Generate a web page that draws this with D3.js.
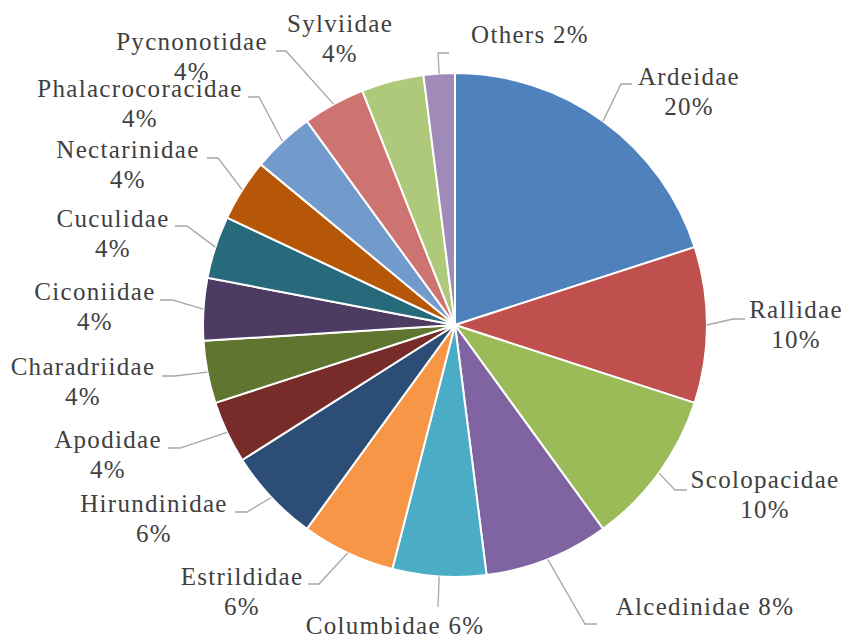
<!DOCTYPE html>
<html>
<head>
<meta charset="utf-8">
<script src="https://cdn.jsdelivr.net/npm/d3@7"></script>
<style>
    body { margin: 0; background: #fff; }
</style>
</head>
<body>
<svg id="chart" width="844" height="640"></svg>
<script>
// bird families and their share of species (%)
var families = ['Ardeidae', 'Rallidae', 'Scolopacidae', 'Alcedinidae', 'Columbidae', 'Estrildidae',
    'Hirundinidae', 'Apodidae', 'Charadriidae', 'Ciconiidae', 'Cuculidae', 'Nectarinidae',
    'Phalacrocoracidae', 'Pycnonotidae', 'Sylviidae', 'Others'];
var shares = [20, 10, 10, 8, 6, 6, 6, 4, 4, 4, 4, 4, 4, 4, 4, 2];
var colors = ['#4f81bd', '#c0504d', '#9bbb59', '#8064a2', '#4bacc6', '#f79646',
    '#2c4d75', '#772c2a', '#5f7530', '#4d3b62', '#276a7c', '#b65708',
    '#729aca', '#cd7371', '#afc97a', '#a08ab8'];

// label placement (text centre, first baseline, leader elbow, leader end)
var labelLayout = [
    {tx: 689, ty: 85, ex: 621, ey: 84, hx: 632},
    {tx: 796, ty: 318, ex: 733, ey: 319, hx: 745},
    {tx: 765, ty: 488, ex: 675, ey: 490, hx: 687},
    {tx: 705, ty: 615, ex: 585, ey: 624, hx: 597, oneLine: true},
    {tx: 395, ty: 634, ex: 438, ey: 607, hx: 438, oneLine: true},
    {tx: 242, ty: 585, ex: 319, ey: 584, hx: 308},
    {tx: 154, ty: 512, ex: 247, ey: 512, hx: 235},
    {tx: 108, ty: 448, ex: 180, ey: 448, hx: 168},
    {tx: 83, ty: 375, ex: 175, ey: 376, hx: 162},
    {tx: 95, ty: 300, ex: 172, ey: 300, hx: 160},
    {tx: 113, ty: 227, ex: 187, ey: 226, hx: 175},
    {tx: 128, ty: 158, ex: 218, ey: 158, hx: 207},
    {tx: 140, ty: 97, ex: 259, ey: 97, hx: 248},
    {tx: 192, ty: 50, ex: 286, ey: 51, hx: 276},
    {tx: 340, ty: 32, noLeader: true},
    {tx: 530, ty: 43, ex: 438, ey: 53, hx: 449, oneLine: true}
];

var cx = 455, cy = 325, radius = 252, lineGap = 30;

var svg = d3.select('svg#chart');

var pie = d3.pie()
    .sort(null)
    .value(function(d) { return d; });

var arcs = pie(shares);

var arc = d3.arc()
    .innerRadius(0)
    .outerRadius(radius);

var edge = d3.arc()
    .innerRadius(radius)
    .outerRadius(radius);

var g = svg.append('g')
    .attr('transform', 'translate(' + cx + ',' + cy + ')');

g.selectAll('path.slice')
    .data(arcs)
    .enter()
    .append('path')
    .attr('class', 'slice')
    .attr('d', arc)
    .attr('fill', function(d, i) { return colors[i]; })
    .attr('stroke', '#fff')
    .attr('stroke-width', 2)
    .attr('stroke-linejoin', 'round');

// leader lines
svg.selectAll('path.leader')
    .data(arcs.filter(function(d, i) { return !labelLayout[i].noLeader; }))
    .enter()
    .append('path')
    .attr('class', 'leader')
    .attr('fill', 'none')
    .attr('stroke', '#a6a6a6')
    .attr('stroke-width', 1.3)
    .attr('d', function(d) {
        var L = labelLayout[d.index];
        var p = edge.centroid(d);
        return d3.line()([[cx + p[0], cy + p[1]], [L.ex, L.ey], [L.hx, L.ey]]);
    });

// labels
var labels = svg.selectAll('text.label')
    .data(arcs)
    .enter()
    .append('text')
    .attr('class', 'label')
    .attr('text-anchor', 'middle')
    .attr('font-family', 'Liberation Serif, DejaVu Serif, Noto Serif, Times New Roman, Times, serif')
    .attr('font-size', 25)
    .attr('letter-spacing', 1.3)
    .attr('fill', '#404040');

labels.each(function(d, i) {
    var L = labelLayout[i];
    var t = d3.select(this);
    var pct = shares[i] + '%';
    if (L.oneLine) {
        t.append('tspan').attr('x', L.tx).attr('y', L.ty).text(families[i] + ' ' + pct);
    } else {
        t.append('tspan').attr('x', L.tx).attr('y', L.ty).text(families[i]);
        t.append('tspan').attr('x', L.tx).attr('y', L.ty + lineGap).text(pct);
    }
});
</script>
</body>
</html>
